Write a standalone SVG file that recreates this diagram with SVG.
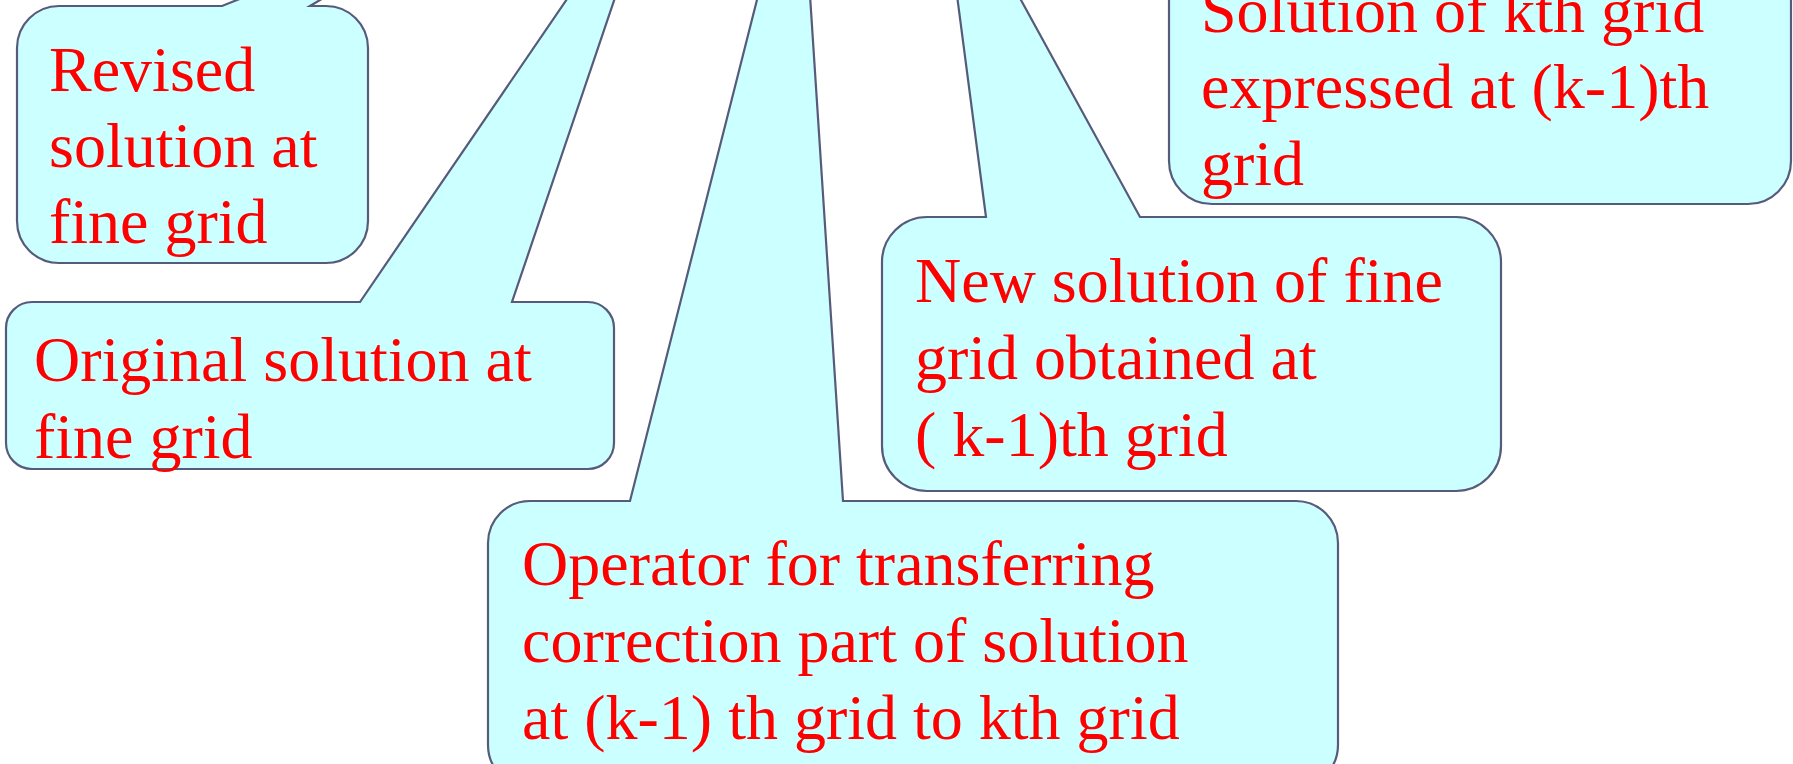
<svg xmlns="http://www.w3.org/2000/svg" width="1793" height="764" viewBox="0 0 1793 764">
<style>
.box{fill:#CCFFFF;stroke:#565B7B;stroke-width:2.2;stroke-linejoin:miter}
.t{font-family:"Liberation Serif","Times New Roman",serif;font-size:64px;fill:#FF0000}
</style>
<rect width="1793" height="764" fill="#FFFFFF"/>
<g id="callout-kth">
<path class="box" d="M 1212,-55 L 1748,-55 A 43 43 0 0 1 1791,-12 L 1791,161 A 43 43 0 0 1 1748,204 L 1212,204 A 43 43 0 0 1 1169,161 L 1169,-12 A 43 43 0 0 1 1212,-55 Z"/>
<text class="t" x="1201" y="32">Solution of kth grid</text>
<text class="t" x="1201" y="108">expressed at (k-1)th</text>
<text class="t" x="1201" y="185">grid</text>
</g>
<g id="callout-revised">
<path class="box" d="M 59,6 L 222,6 L 337,-40 L 387,-40 L 310,6 L 326,6 A 42 42 0 0 1 368,48 L 368,221 A 42 42 0 0 1 326,263 L 59,263 A 42 42 0 0 1 17,221 L 17,48 A 42 42 0 0 1 59,6 Z"/>
<text class="t" x="49" y="91">Revised</text>
<text class="t" x="49" y="167">solution at</text>
<text class="t" x="49" y="243">fine grid</text>
</g>
<g id="callout-original">
<path class="box" d="M 32,302 L 360,302 L 580,-20 L 621,-20 L 512,302 L 588,302 A 26 26 0 0 1 614,328 L 614,443 A 26 26 0 0 1 588,469 L 32,469 A 26 26 0 0 1 6,443 L 6,328 A 26 26 0 0 1 32,302 Z"/>
<text class="t" x="34" y="381">Original solution at</text>
<text class="t" x="34" y="458">fine grid</text>
</g>
<g id="callout-new">
<path class="box" d="M 927,217 L 986,217 L 955,-20 L 1010,-20 L 1140,217 L 1456,217 A 45 45 0 0 1 1501,262 L 1501,446 A 45 45 0 0 1 1456,491 L 927,491 A 45 45 0 0 1 882,446 L 882,262 A 45 45 0 0 1 927,217 Z"/>
<text class="t" x="915" y="302">New solution of fine</text>
<text class="t" x="915" y="379">grid obtained at</text>
<text class="t" x="915" y="456">( k-1)th grid</text>
</g>
<g id="callout-operator">
<path class="box" d="M 530,501 L 630,501 L 762,-20 L 809,-20 L 843,501 L 1296,501 A 42 42 0 0 1 1338,543 L 1338,745 A 42 42 0 0 1 1296,787 L 530,787 A 42 42 0 0 1 488,745 L 488,543 A 42 42 0 0 1 530,501 Z"/>
<text class="t" x="522" y="585">Operator for transferring</text>
<text class="t" x="522" y="662">correction part of solution</text>
<text class="t" x="522" y="739">at (k-1) th grid to kth grid</text>
</g>
</svg>
